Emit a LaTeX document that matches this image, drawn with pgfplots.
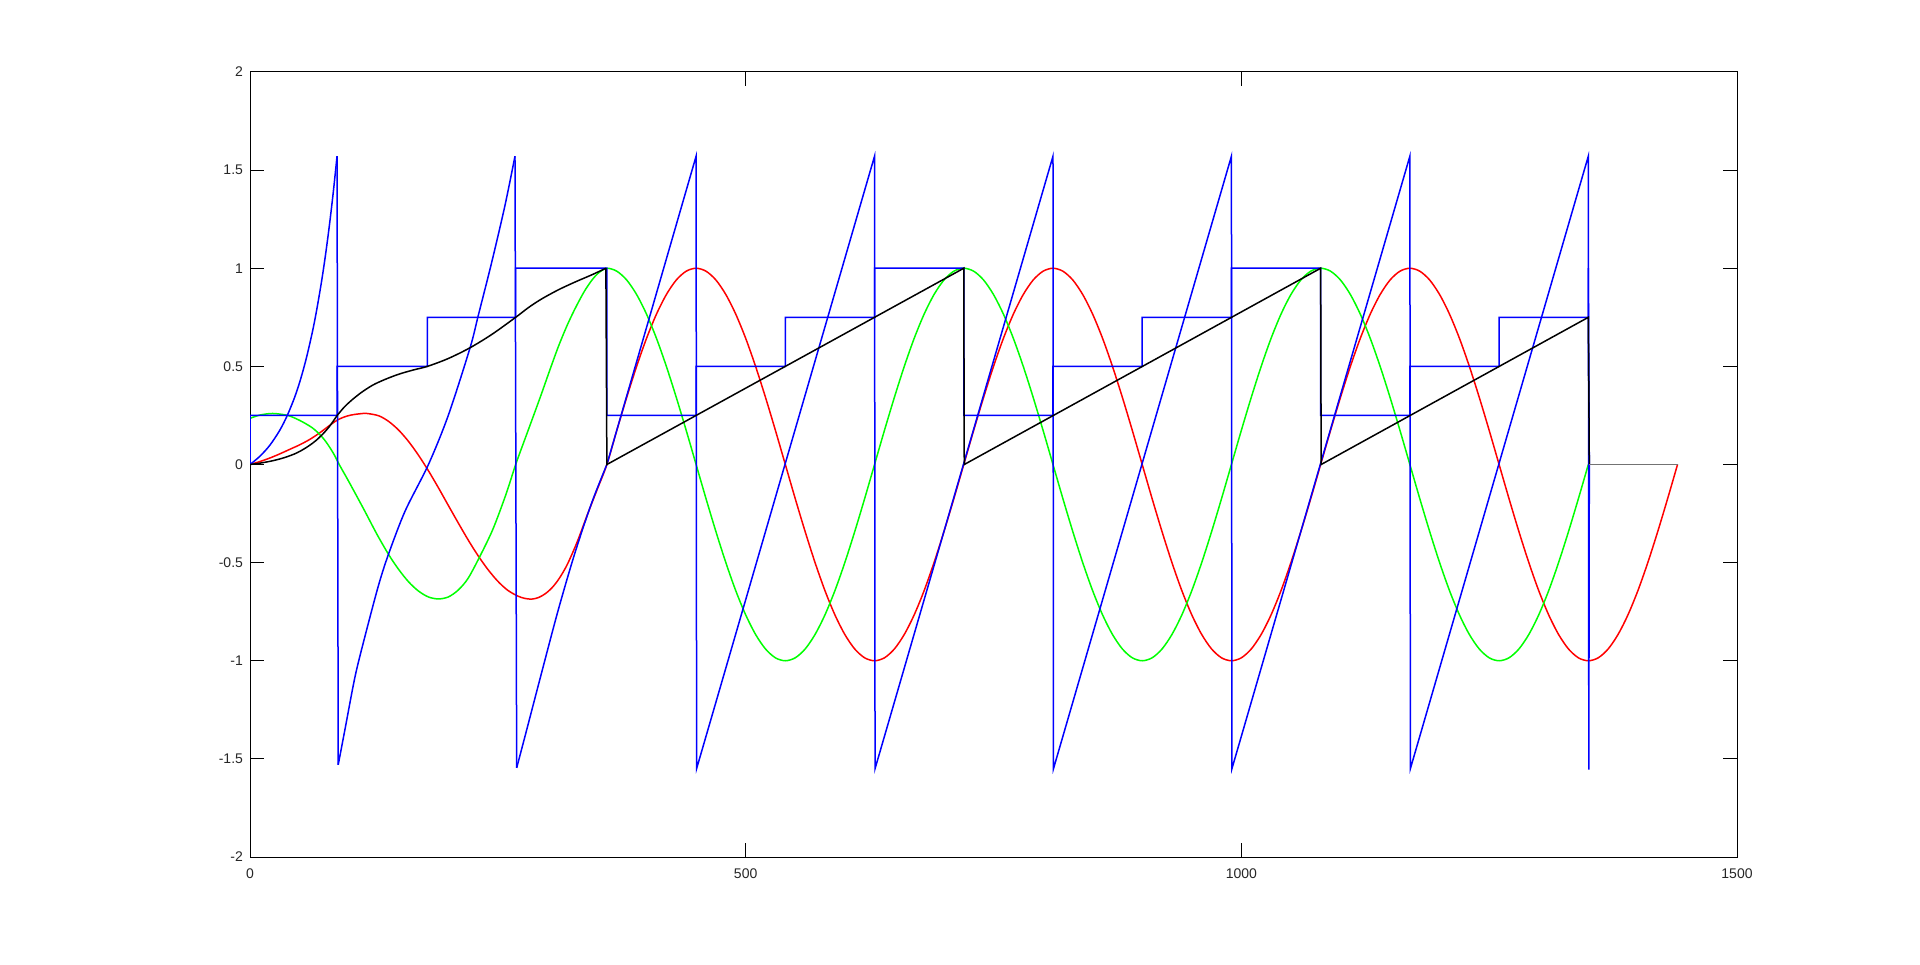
\documentclass[border=0pt]{standalone}
\usepackage{fontspec}
\setmainfont{Liberation Sans}
\usepackage{pgfplots}
\pgfplotsset{compat=1.18}
\definecolor{mlblue}{RGB}{0,0,255}
\definecolor{mlred}{RGB}{255,0,0}
\definecolor{mlgreen}{RGB}{0,255,0}
\definecolor{axgray}{RGB}{38,38,38}
\begin{document}
\begin{tikzpicture}
\begin{axis}[
  scale only axis,
  width=743.5pt, height=392.5pt,
  xmin=0, xmax=1500, ymin=-2, ymax=2,
  xtick={0,500,1000,1500},
  ytick={-2,-1.5,-1,-0.5,0,0.5,1,1.5,2},
  tick align=inside,
  major tick length=7pt,
  xtick pos=both, ytick pos=both,
  xticklabel pos=lower, yticklabel pos=left,
  axis line style={black, line width=0.5pt},
  tick style={black, line width=0.5pt},
  ticklabel style={font=\fontsize{7}{8}\selectfont, text=axgray},
  xticklabel style={yshift=-2.2pt},
  unbounded coords=jump,
  /pgf/number format/assume math mode=true,
  /pgf/number format/1000 sep={},
  every axis plot/.append style={line width=0.75pt, mark=none},
]
% red: start-up, then sine
\addplot[mlred, smooth] coordinates {
(0,0) (10,0.015) (20,0.033) (30,0.054) (40,0.077) (50,0.100) (60,0.127) (70,0.160)
(80,0.198) (88,0.226) (95,0.242) (102,0.252) (110,0.258) (118,0.260) (130,0.248)
(140,0.219) (150,0.175) (160,0.117) (170,0.047) (180,-0.032) (190,-0.118) (200,-0.208)
(210,-0.297) (220,-0.384) (230,-0.464) (240,-0.535) (250,-0.595) (260,-0.641) (270,-0.670)
(277,-0.682) (284,-0.686) (291,-0.678) (298,-0.658) (305,-0.626) (312,-0.580) (320,-0.510)
(330,-0.395) (340,-0.260) (350,-0.130) (360,0)
(370,0.174) (380,0.342) (390,0.5) (400,0.643) (410,0.766) (420,0.866) (430,0.940) (440,0.985)
(450,1) (460,0.985) (470,0.940) (480,0.866) (490,0.766) (500,0.643) (510,0.5) (520,0.342)
(530,0.174) (540,0) (550,-0.174) (560,-0.342) (570,-0.5) (580,-0.643) (590,-0.766) (600,-0.866)
(610,-0.940) (620,-0.985) (630,-1) (640,-0.985) (650,-0.940) (660,-0.866) (670,-0.766)
(680,-0.643) (690,-0.5) (700,-0.342) (710,-0.174) (720,0)
(730,0.174) (740,0.342) (750,0.5) (760,0.643) (770,0.766) (780,0.866) (790,0.940) (800,0.985)
(810,1) (820,0.985) (830,0.940) (840,0.866) (850,0.766) (860,0.643) (870,0.5) (880,0.342)
(890,0.174) (900,0) (910,-0.174) (920,-0.342) (930,-0.5) (940,-0.643) (950,-0.766) (960,-0.866)
(970,-0.940) (980,-0.985) (990,-1) (1000,-0.985) (1010,-0.940) (1020,-0.866) (1030,-0.766)
(1040,-0.643) (1050,-0.5) (1060,-0.342) (1070,-0.174) (1080,0)
(1090,0.174) (1100,0.342) (1110,0.5) (1120,0.643) (1130,0.766) (1140,0.866) (1150,0.940) (1160,0.985)
(1170,1) (1180,0.985) (1190,0.940) (1200,0.866) (1210,0.766) (1220,0.643) (1230,0.5) (1240,0.342)
(1250,0.174) (1260,0) (1270,-0.174) (1280,-0.342) (1290,-0.5) (1300,-0.643) (1310,-0.766) (1320,-0.866)
(1330,-0.940) (1340,-0.985) (1350,-1) (1360,-0.985) (1370,-0.940) (1380,-0.866) (1390,-0.766)
(1400,-0.643) (1410,-0.5) (1420,-0.342) (1430,-0.174) (1440,0)
};
% green: start-up, then cosine
\addplot[mlgreen, smooth] coordinates {
(0,0.235) (10,0.252) (23,0.260) (38,0.250) (50,0.225) (62,0.190) (70,0.155) (76,0.120)
(82,0.075) (86,0.040) (90,0) (100,-0.090) (115,-0.230) (128,-0.355) (140,-0.460)
(150,-0.535) (160,-0.598) (170,-0.645) (180,-0.675) (190,-0.685) (200,-0.675) (210,-0.640)
(220,-0.580) (232,-0.467) (245,-0.330) (258,-0.155) (268,0) (277,0.125) (285,0.235)
(294,0.360) (302,0.475) (311,0.600) (320,0.710) (328,0.795) (337,0.880) (345,0.940)
(352,0.978) (360,1)
(370,0.985) (380,0.940) (390,0.866) (400,0.766) (410,0.643) (420,0.5) (430,0.342) (440,0.174)
(450,0) (460,-0.174) (470,-0.342) (480,-0.5) (490,-0.643) (500,-0.766) (510,-0.866) (520,-0.940)
(530,-0.985) (540,-1) (550,-0.985) (560,-0.940) (570,-0.866) (580,-0.766) (590,-0.643) (600,-0.5)
(610,-0.342) (620,-0.174) (630,0) (640,0.174) (650,0.342) (660,0.5) (670,0.643) (680,0.766)
(690,0.866) (700,0.940) (710,0.985) (720,1)
(730,0.985) (740,0.940) (750,0.866) (760,0.766) (770,0.643) (780,0.5) (790,0.342) (800,0.174)
(810,0) (820,-0.174) (830,-0.342) (840,-0.5) (850,-0.643) (860,-0.766) (870,-0.866) (880,-0.940)
(890,-0.985) (900,-1) (910,-0.985) (920,-0.940) (930,-0.866) (940,-0.766) (950,-0.643) (960,-0.5)
(970,-0.342) (980,-0.174) (990,0) (1000,0.174) (1010,0.342) (1020,0.5) (1030,0.643) (1040,0.766)
(1050,0.866) (1060,0.940) (1070,0.985) (1080,1)
(1090,0.985) (1100,0.940) (1110,0.866) (1120,0.766) (1130,0.643) (1140,0.5) (1150,0.342) (1160,0.174)
(1170,0) (1180,-0.174) (1190,-0.342) (1200,-0.5) (1210,-0.643) (1220,-0.766) (1230,-0.866) (1240,-0.940)
(1250,-0.985) (1260,-1) (1270,-0.985) (1280,-0.940) (1290,-0.866) (1300,-0.766) (1310,-0.643) (1320,-0.5)
(1330,-0.342) (1340,-0.174) (1350,0)
};
% blue: wrapped phase, curved start-up branches
\addplot[mlblue, smooth] coordinates {
(0,0) (10,0.042) (20,0.098) (30,0.174) (37.6,0.250) (45,0.342) (51,0.434) (57,0.545)
(63,0.677) (67,0.780) (72,0.927) (76,1.062) (80,1.215) (84,1.387) (87.8,1.571)
(nan,nan)
(89,-1.530) (95.8,-1.350) (106,-1.080) (116,-0.875) (129.4,-0.620) (139.5,-0.460)
(156.4,-0.238) (180,0) (200,0.250) (222,0.595) (230.3,0.760) (243.8,1.030) (257.2,1.320)
(267.3,1.571)
(nan,nan)
(269,-1.546) (277.4,-1.385) (294.2,-1.060) (311,-0.740) (327.8,-0.450)
(344.7,-0.195) (360,0)
};
% blue: wraps and straight branches
\addplot[mlblue] coordinates {
(87.8,1.571) (89,-1.530) (nan,nan) (267.3,1.571) (269,-1.546) (nan,nan)
(360,0) (450,1.571) (450.5,-1.55) (630,1.571) (630.5,-1.55) (810,1.571) (810.5,-1.55)
(990,1.571) (990.5,-1.55) (1170,1.571) (1170.5,-1.55) (1350,1.571) (1350.5,-1.555) (1351,0)
};
% blue: quadrant steps
\addplot[mlblue] coordinates {
(0,0) (0,0.25) (88,0.25) (88,0.5) (179,0.5) (179,0.75) (268,0.75) (268,1) (360,1)
(360,0.25) (450,0.25) (450,0.5) (540,0.5) (540,0.75) (630,0.75) (630,1) (720,1)
(720,0.25) (810,0.25) (810,0.5) (900,0.5) (900,0.75) (990,0.75) (990,1) (1080,1)
(1080,0.25) (1170,0.25) (1170,0.5) (1260,0.5) (1260,0.75) (1350,0.75) (1350,1) (1351,0)
};
% black: normalised phase, start-up
\addplot[black, smooth] coordinates {
(0,0) (10,0.007) (20,0.016) (30,0.028) (37.6,0.040) (45,0.054) (51,0.069) (57,0.087)
(63,0.108) (67,0.124) (72,0.148) (76,0.169) (80,0.193) (84,0.221) (88,0.250) (95,0.292)
(102.6,0.328) (112.6,0.368) (124,0.405) (136,0.433) (150,0.460) (165,0.482) (179,0.500)
(200,0.540) (222,0.595) (244,0.663) (268,0.750) (281,0.800) (294,0.843) (311,0.890)
(328,0.930) (345,0.967) (359,1)
};
% black: normalised phase, steady ramps
\addplot[black] coordinates {
(359,1) (360,0) (720,1) (720.5,0) (1080,1) (1080.5,0) (1350,0.75) (1351,0)
};
% zero tail after the end
\addplot[black!55] coordinates {(1351,0) (1440,0)};
\end{axis}
\path (-125pt,-53.5pt) rectangle (835pt,428.5pt);
\end{tikzpicture}
\end{document}
